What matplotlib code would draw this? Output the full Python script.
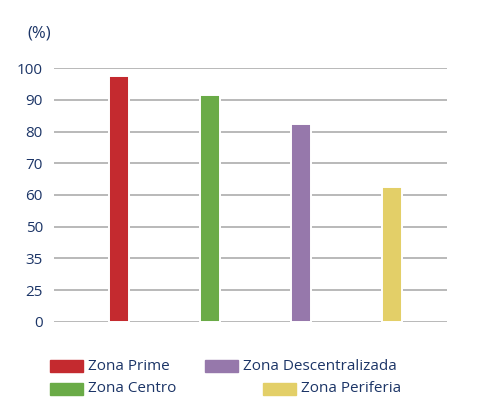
import numpy as np
import matplotlib
matplotlib.use("Agg")
import matplotlib.pyplot as plt
from matplotlib.patches import Rectangle

# datos
zonas = ["Zona Prime", "Zona Centro", "Zona Descentralizada", "Zona Periferia"]
valores = [97.6, 91.6, 82.3, 62.6]
colores = ["#c42a2f", "#6aab47", "#9678ab", "#e3cf68"]
ticks_y = [0, 25, 35, 50, 60, 70, 80, 90, 100]

navy = "#1c3567"
plt.rcParams['font.family'] = ['Open Sans', 'DejaVu Sans']

# eje Y con escala no lineal (etiquetas equiespaciadas)
pos_y = np.arange(len(ticks_y), dtype=float)
def forward(v):
    return np.interp(v, ticks_y, pos_y)
def inverse(p):
    return np.interp(p, pos_y, ticks_y)

fig = plt.figure(figsize=(4.82, 4.07), dpi=100)
ax = fig.add_axes([0.112, 0.2096, 0.815, 0.6226])
ax.set_yscale('function', functions=(forward, inverse))

x = np.arange(len(zonas))
ax.bar(x, valores, width=0.22, color=colores, edgecolor="white", linewidth=1.4, zorder=3)

ax.set_ylim(0, 100)
ax.set_xlim(-0.72, 3.6)
ax.set_yticks(ticks_y)
ax.set_yticklabels([str(t) for t in ticks_y], color=navy, fontsize=11)
ax.tick_params(axis='y', length=0, pad=8)
ax.set_xticks([])
ax.yaxis.grid(True, color="#b3b3b3", linewidth=1.3, zorder=0)
ax.set_axisbelow(True)
for s in ax.spines.values():
    s.set_visible(False)

fig.text(27 / 482, 1 - 34 / 407, "(%)", color=navy, fontsize=12, va='center', ha='left')

# leyenda
leg_pos = [(50, 366), (50, 389), (205, 366), (263, 389)]
for (px, py), nombre, c in zip(leg_pos, zonas, colores):
    fig.add_artist(Rectangle((px / 482, 1 - (py + 6) / 407), 33 / 482, 12 / 407,
                             transform=fig.transFigure, color=c))
    fig.text((px + 38) / 482, 1 - py / 407, nombre, color=navy, fontsize=11,
             va='center', ha='left')

fig.savefig("out.png", dpi=100)
